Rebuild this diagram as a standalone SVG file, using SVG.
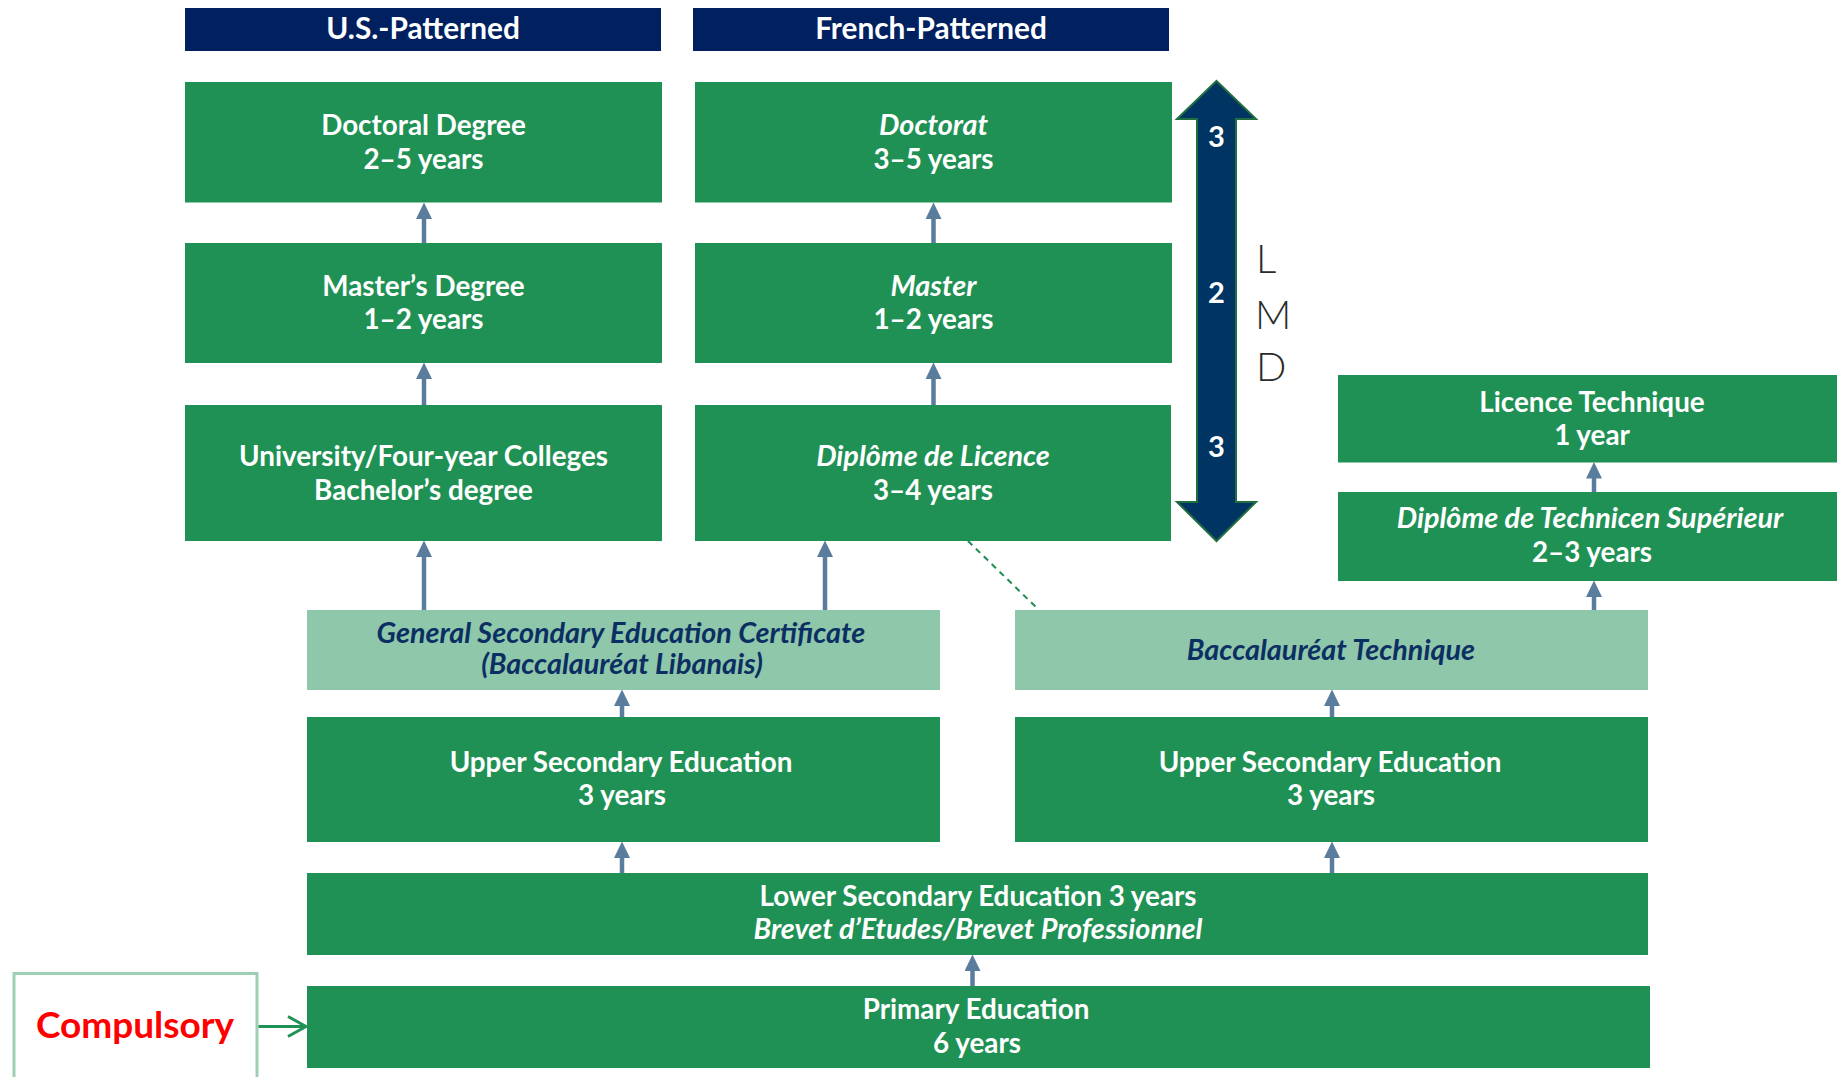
<svg xmlns="http://www.w3.org/2000/svg" width="1837" height="1077" viewBox="0 0 1837 1077">
<style>
.hdr{fill:#002060}
.box{fill:#1f9155}
.lbox{fill:#8fc7aa}
.t{font-family:Lato,"Liberation Sans",sans-serif;font-weight:700;font-size:27.8px;fill:#fff;text-anchor:middle}
.h{font-size:29.8px}
.tn{font-family:Lato,"Liberation Sans",sans-serif;font-weight:700;font-style:italic;font-size:28.8px;fill:#0c2f63;text-anchor:middle}
.i{font-style:italic;font-size:28.8px}
.conn{stroke:#5a7d9e;stroke-width:4.5;fill:none;marker-end:url(#ah)}
.lmd{font-family:Lato,"Liberation Sans",sans-serif;font-weight:300;font-size:40px;fill:#2b2b2b}
.num{font-family:Lato,"Liberation Sans",sans-serif;font-weight:700;font-size:29px;fill:#fff;text-anchor:middle}
</style>
<defs>
<marker id="ah" markerUnits="userSpaceOnUse" markerWidth="17" markerHeight="16" refX="4" refY="8" orient="auto" viewBox="0 0 17 16">
<path d="M0,0 L16.5,8 L0,16 z" fill="#5a7d9e"/>
</marker>
<marker id="oa" markerUnits="userSpaceOnUse" markerWidth="22" markerHeight="24" refX="19" refY="12" orient="auto" viewBox="0 0 22 24">
<path d="M1,2 L19,12 L1,22" fill="none" stroke="#1f9155" stroke-width="3"/>
</marker>
</defs>
<rect width="1837" height="1077" fill="#fff"/>

<g id="hdr-us"><rect class="hdr" x="185" y="8" width="476" height="43"/><text class="t h" x="423" y="39">U.S.-Patterned</text></g>
<g id="hdr-fr"><rect class="hdr" x="693" y="8" width="476" height="43"/><text class="t h" x="931" y="39">French-Patterned</text></g>

<g id="doc-us"><rect class="box" x="185" y="82" width="477" height="120.5"/><text class="t" x="423.5" y="135">Doctoral Degree</text><text class="t" x="423.5" y="169">2–5 years</text></g>
<g id="doc-fr"><rect class="box" x="695" y="82" width="477" height="120.5"/><text class="t" x="933.5" y="135"><tspan class="i">Doctorat</tspan></text><text class="t" x="933.5" y="169">3–5 years</text></g>
<g id="mas-us"><rect class="box" x="185" y="243" width="477" height="120"/><text class="t" x="423.5" y="296">Master’s Degree</text><text class="t" x="423.5" y="329">1–2 years</text></g>
<g id="mas-fr"><rect class="box" x="695" y="243" width="477" height="120"/><text class="t" x="933.5" y="296"><tspan class="i">Master</tspan></text><text class="t" x="933.5" y="329">1–2 years</text></g>
<g id="uni-us"><rect class="box" x="185" y="405" width="477" height="136"/><text class="t" x="423.5" y="465.5">University/Four-year Colleges</text><text class="t" x="423.5" y="499.5">Bachelor’s degree</text></g>
<g id="lic-fr"><rect class="box" x="695" y="405" width="476" height="136"/><text class="t" x="933" y="465.5"><tspan class="i">Diplôme de Licence</tspan></text><text class="t" x="933" y="499.5">3–4 years</text></g>

<g id="lmd">
<path d="M1216.5,81 L1256,119 L1236,119 L1236,502 L1256,502 L1216.5,541 L1177,502 L1197,502 L1197,119 L1177,119 Z" fill="#003462" stroke="#1f6e40" stroke-width="2"/>
<text class="num" x="1216.5" y="147">3</text>
<text class="num" x="1216.5" y="303">2</text>
<text class="num" x="1216.5" y="457">3</text>
<text class="lmd" x="1256" y="273">L</text>
<text class="lmd" x="1255" y="328.5">M</text>
<text class="lmd" x="1256" y="381">D</text>
</g>

<g id="lic-tech"><rect class="box" x="1338" y="375" width="510" height="87.5"/><text class="t" x="1592" y="412">Licence Technique</text><text class="t" x="1592" y="445">1 year</text></g>
<g id="dts"><rect class="box" x="1338" y="492" width="510" height="89"/><text class="t" x="1590" y="528"><tspan class="i">Diplôme de Technicen Supérieur</tspan></text><text class="t" x="1592" y="562">2–3 years</text></g>

<g id="gsec"><rect class="lbox" x="307" y="610" width="633" height="80"/><text class="tn" x="621" y="643">General Secondary Education Certificate</text><text class="tn" x="622" y="673.5">(Baccalauréat Libanais)</text></g>
<g id="bacc-tech"><rect class="lbox" x="1015" y="610" width="633" height="80"/><text class="tn" x="1331" y="660">Baccalauréat Technique</text></g>

<g id="usec-l"><rect class="box" x="307" y="717" width="633" height="125"/><text class="t" x="621" y="771.5">Upper Secondary Education</text><text class="t" x="622" y="805">3 years</text></g>
<g id="usec-r"><rect class="box" x="1015" y="717" width="633" height="125"/><text class="t" x="1330" y="771.5">Upper Secondary Education</text><text class="t" x="1331" y="805">3 years</text></g>

<g id="lsec"><rect class="box" x="307" y="873" width="1341" height="82"/><text class="t" x="978" y="906">Lower Secondary Education 3 years</text><text class="t" x="978" y="939"><tspan class="i">Brevet d’Etudes/Brevet Professionnel</tspan></text></g>
<g id="prim"><rect class="box" x="307" y="986" width="1343" height="82"/><text class="t" x="976" y="1019">Primary Education</text><text class="t" x="977" y="1052.5">6 years</text></g>

<g id="compulsory"><rect x="14" y="973.5" width="243" height="120" fill="none" stroke="#9ccfb3" stroke-width="3"/><text x="135" y="1038" font-family="Lato,'Liberation Sans',sans-serif" font-weight="700" font-size="37" fill="#ff0000" text-anchor="middle">Compulsory</text></g>

<g id="connectors">
<line class="conn" x1="424" y1="243" x2="424" y2="215"/>
<line class="conn" x1="424" y1="405" x2="424" y2="375"/>
<line class="conn" x1="424" y1="610" x2="424" y2="553"/>
<line class="conn" x1="933.5" y1="243" x2="933.5" y2="215"/>
<line class="conn" x1="933.5" y1="405" x2="933.5" y2="375"/>
<line class="conn" x1="825" y1="610" x2="825" y2="553"/>
<line class="conn" x1="622" y1="717" x2="622" y2="702"/>
<line class="conn" x1="1332" y1="717" x2="1332" y2="702"/>
<line class="conn" x1="622" y1="873" x2="622" y2="854"/>
<line class="conn" x1="1332" y1="873" x2="1332" y2="854"/>
<line class="conn" x1="972.5" y1="986" x2="972.5" y2="967"/>
<line class="conn" x1="1594" y1="610" x2="1594" y2="593"/>
<line class="conn" x1="1594" y1="492" x2="1594" y2="474.5"/>
<line x1="968" y1="541" x2="1039" y2="610" stroke="#1f8c52" stroke-width="2" stroke-dasharray="6 5"/>
<line x1="258.5" y1="1026.5" x2="306" y2="1026.5" stroke="#1f9155" stroke-width="3" marker-end="url(#oa)"/>
</g>
</svg>
